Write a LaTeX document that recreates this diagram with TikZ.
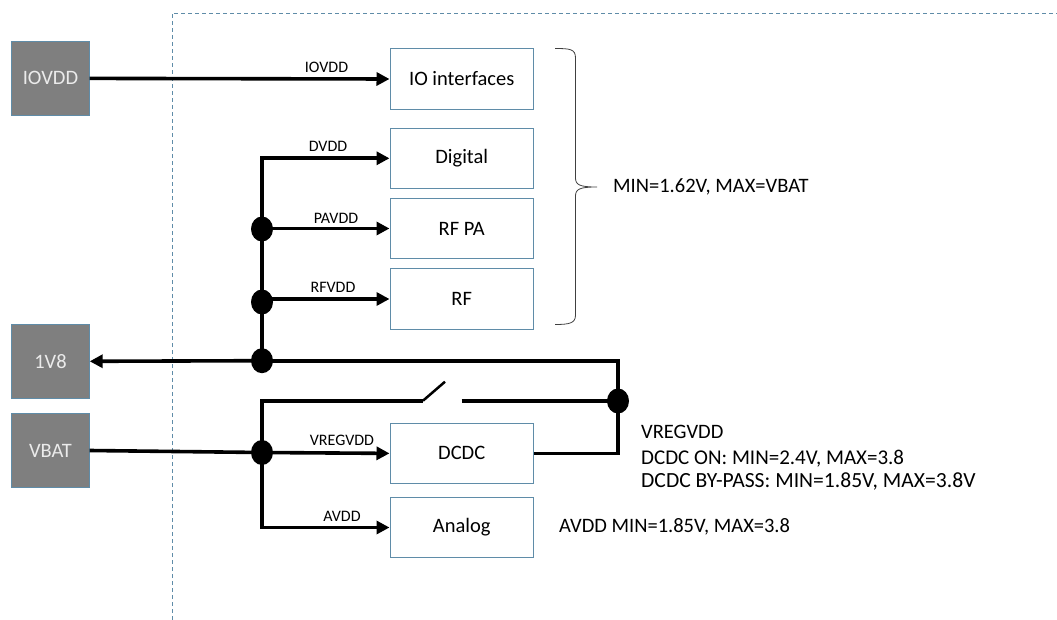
\documentclass[tikz,border=0pt]{standalone}
\usepackage{fontspec}
\setmainfont{Carlito}
\usetikzlibrary{shapes.geometric,arrows.meta}
\definecolor{edgeblue}{HTML}{5F8CA8}
\definecolor{padgray}{HTML}{7F7F7F}
\tikzset{
 pad/.style={draw=edgeblue,fill=padgray,text=white!92!black,minimum width=78pt,minimum height=74pt,font=\fontsize{20.5}{22}\selectfont},
 blockbox/.style={draw=edgeblue,line width=.9pt,minimum width=143.5pt,minimum height=60.5pt,font=\fontsize{20.5}{22}\selectfont},
 junct/.style={ellipse,fill=black,minimum width=22pt,minimum height=25pt,inner sep=0pt},
 rail/.style={line width=3.6pt},
 tip/.style={-{Stealth[length=13pt,width=13pt,inset=0pt]}},
 lbl/.style={font=\fontsize{16}{18}\selectfont,inner sep=0pt},
 note/.style={font=\fontsize{20.5}{22}\selectfont,inner sep=0pt,anchor=west}
}
\begin{document}
\begin{tikzpicture}[x=1pt,y=-1pt]
 \useasboundingbox (0,0) rectangle (1057,620);
 \draw[edgeblue,dash pattern=on 4pt off 3pt] (172,620)--(172,13)--(1057,13);
 % sources
 \node[pad] (IOVDDpad) at (50.5,78.4) {IOVDD};
 \node[pad] (Vpad) at (50.5,361.3) {1V8};
 \node[pad] (VBATpad) at (50.5,450.5) {VBAT};
 % blocks
 \node[blockbox] (IO) at (461.7,79) {IO interfaces};
 \node[blockbox] (Digital) at (461.7,158.3) {Digital};
 \node[blockbox] (RFPA) at (461.7,228.5) {RF PA};
 \node[blockbox] (RF) at (461.7,299) {RF};
 \node[blockbox] (DCDC) at (461.7,453.4) {DCDC};
 \node[blockbox] (Analog) at (461.7,527.5) {Analog};
 % junctions
 \node[junct] (Ja) at (262,229) {};
 \node[junct] (Jb) at (262,302) {};
 \node[junct] (Jc) at (262,360.7) {};
 \node[junct] (Jd) at (262,452.5) {};
 \node[junct] (Je) at (618,401) {};
 \coordinate (Ctop) at (618,360.7);
 \coordinate (Sa) at (262,400.7);
 \coordinate (Sb) at (423,400.7);
 \coordinate (Sc) at (445,381.7);
 \coordinate (Sd) at (461.7,401);
 % connectors
 \begin{scope}[rail,tip]
 \draw (IOVDDpad.east)--(IO.west);
 \draw (Jc.center)|-(Digital.west);
 \draw (Ja.center|-RFPA.west)--(RFPA.west);
 \draw (Jb.center|-RF.west)--(RF.west);
 \draw (Jc.center)--(Vpad.east);
 \draw (Jd.center)--(DCDC.west);
 \draw (Jd.center)|-(Analog.west);
 \end{scope}
 \begin{scope}[rail]
 \draw (VBATpad.east)--(Jd.center);
 \draw (Jc.center)--(Ctop)--(Je.center)|-(DCDC.east);
 \draw (Jd.center)--(Sa)--(Sb);
 \draw (Sd)--(Je.center);
 \draw[line width=2.5pt] (Sb)--(Sc);
 \end{scope}
 % labels
 \node[lbl] (tIO) at (326.5,67) {IOVDD};
 \node[lbl] (tD) at (328,146) {DVDD};
 \node[lbl] (tPA) at (336,218) {PAVDD};
 \node[lbl] (tRF) at (333,287) {RFVDD};
 \node[lbl] (tVR) at (342,440.7) {VREGVDD};
 \node[lbl] (tA) at (342,516.7) {AVDD};
 % brace
 \coordinate (Ba) at (555,48.5);
 \coordinate (Btip) at (597,187);
 \draw[black!75,line width=.8pt] (Ba) .. controls (570,48.5) and (575.5,49) .. (575.5,58)
 --(575.5,178) .. controls (575.5,185) and (580,187) .. (Btip)
 (Btip) .. controls (580,187) and (575.5,189) .. (575.5,196)
 --(575.5,315) .. controls (575.5,323) and (570,324.5) .. (555,324.5);
 % notes
 \node[note] (n1) at (613,187) {MIN=1.62V, MAX=VBAT};
 \node[note] (n2) at (641,432) {VREGVDD};
 \node[note] (n3) at (641,459) {\fontsize{21}{22}\selectfont DCDC ON: MIN=2.4V, MAX=3.8};
 \node[note] (n4) at (641,482) {\fontsize{21.6}{22}\selectfont DCDC BY-PASS: MIN=1.85V, MAX=3.8V};
 \node[note] (n5) at (559,527) {AVDD MIN=1.85V, MAX=3.8};
\end{tikzpicture}
\end{document}
